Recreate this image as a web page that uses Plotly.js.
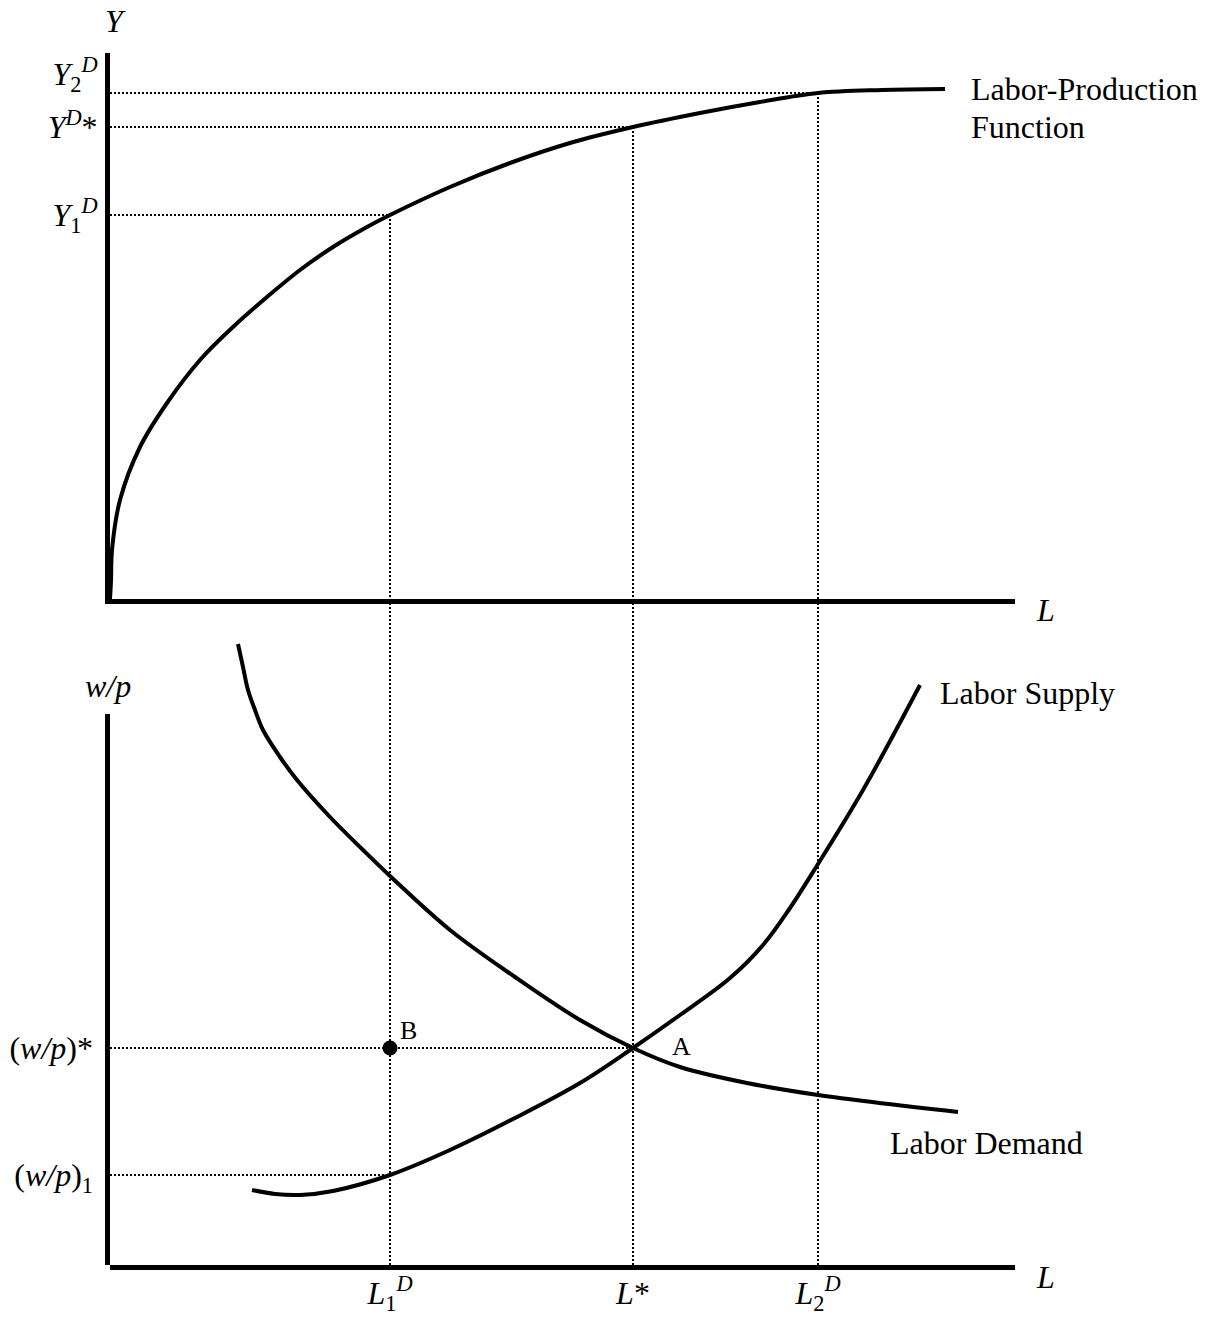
<!DOCTYPE html>
<html>
<head>
<meta charset="utf-8">
<script src="https://cdn.plot.ly/plotly-3.0.1.min.js"></script>
<style>html,body{margin:0;padding:0;background:#fff;}#chart{width:1219px;height:1319px;}</style>
</head>
<body>
<div id="chart"></div>
<script>
// ---- data (arbitrary units) ----
// key levels
var L1 = 280, Lstar = 523, L2 = 708;          // labour quantities
var Y1 = 384, Ystar = 472, Y2 = 506;          // output levels
var wStar = 217, w1 = 90;                     // real wage levels

// labour-production function
var prodL = [0, 1, 2, 10, 30, 57, 90, 123, 157, 190, 223, 257, 280, 340, 400, 460, 523, 590, 650, 708, 772, 835];
var prodY = [0, 18, 49, 99, 152, 196, 239, 272, 302, 329, 352, 372, 384, 412, 436, 456, 472, 486, 497, 506, 509, 510];

// labour demand
var demL = [128, 133, 138, 145, 153, 170, 187, 220, 253, 280, 340, 405, 470, 523, 570, 637, 708, 848];
var demW = [621, 598, 575, 555, 535, 508, 485, 448, 415, 389, 335, 288, 245, 217, 198, 182, 170, 153];

// labour supply
var supL = [142, 165, 190, 223, 280, 340, 405, 470, 523, 570, 620, 653, 680, 708, 753, 810];
var supW = [75, 71, 70, 74, 90, 115, 147, 182, 217, 250, 287, 320, 357, 401, 475, 580];

// tick labels
var yTickText = ['<i>Y</i><sub>1</sub><sup><i>D</i></sup>', '<i>Y</i><sup><i>D</i></sup>*', '<i>Y</i><sub>2</sub><sup><i>D</i></sup>'];
var wTickText = ['(<i>w/p</i>)*', '(<i>w/p</i>)<sub>1</sub>'];
var lTickText = ['<i>L</i><sub>1</sub><sup><i>D</i></sup>', '<i>L</i>*', '<i>L</i><sub>2</sub><sup><i>D</i></sup>'];

// ---- layout geometry ----
var W = 1219, H = 1319;
var FONT = 'Liberation Serif, Times New Roman, serif';
var xDom = [110 / W, 1015 / W];
var xRange = [0, 905];
var yRange = [0, 546];
var wRange = [0, 666];
var wAxisTop = 551;
var y2LabelLift = 19;

var dotted = {color: '#000', width: 2, dash: '2px,2px'};
var solid = {color: '#000', width: 4, shape: 'spline', smoothing: 1};

function seg(xs, ys, xa, ya) {
  return {x: xs, y: ys, xaxis: xa, yaxis: ya, mode: 'lines', line: dotted, hoverinfo: 'skip', showlegend: false};
}

var traces = [
  // top guides
  seg([0, L1], [Y1, Y1], 'x', 'y'),
  seg([0, Lstar], [Ystar, Ystar], 'x', 'y'),
  seg([0, L2], [Y2, Y2], 'x', 'y'),
  seg([L1, L1], [Y1, 0], 'x', 'y'),
  seg([Lstar, Lstar], [Ystar, 0], 'x', 'y'),
  seg([L2, L2], [Y2, 0], 'x', 'y'),
  // bottom guides
  seg([L1, L1], [0, wRange[1]], 'x2', 'y2'),
  seg([Lstar, Lstar], [0, wRange[1]], 'x2', 'y2'),
  seg([L2, L2], [0, wRange[1]], 'x2', 'y2'),
  seg([0, Lstar], [wStar, wStar], 'x2', 'y2'),
  seg([0, L1], [w1, w1], 'x2', 'y2'),
  // curves
  {x: prodL, y: prodY, xaxis: 'x', yaxis: 'y', mode: 'lines', line: solid, name: 'Labor-Production Function', showlegend: false},
  {x: demL, y: demW, xaxis: 'x2', yaxis: 'y2', mode: 'lines', line: solid, name: 'Labor Demand', showlegend: false},
  {x: supL, y: supW, xaxis: 'x2', yaxis: 'y2', mode: 'lines', line: solid, name: 'Labor Supply', showlegend: false},
  // point B
  {x: [L1], y: [wStar], xaxis: 'x2', yaxis: 'y2', mode: 'markers', marker: {color: '#000', size: 15}, name: 'B', showlegend: false}
];

var axBase = {showgrid: false, zeroline: false, ticks: '', fixedrange: true,
  tickfont: {family: FONT, size: 32, color: '#000'}};

function ann(text, xa, ya, x, y, xs, ys, size, xanchor) {
  return {text: text, xref: xa, yref: ya, x: x, y: y, xshift: xs, yshift: ys, showarrow: false,
    xanchor: xanchor || 'center', yanchor: 'middle', font: {family: FONT, size: size || 32, color: '#000'}};
}

var layout = {
  width: W, height: H,
  margin: {l: 0, r: 0, t: 0, b: 0},
  paper_bgcolor: '#fff', plot_bgcolor: 'rgba(0,0,0,0)',
  showlegend: false,
  font: {family: FONT, color: '#000'},
  xaxis: Object.assign({}, axBase, {domain: xDom, range: xRange, anchor: 'y', showline: true, linewidth: 5, linecolor: '#000', showticklabels: false}),
  yaxis: Object.assign({}, axBase, {domain: [1 - 599 / H, 1 - 53 / H], range: yRange, anchor: 'x', showline: true, linewidth: 5, linecolor: '#000',
    tickvals: [Y1, Ystar, Y2 + y2LabelLift], ticktext: yTickText, ticklabelstandoff: 1}),
  xaxis2: Object.assign({}, axBase, {domain: xDom, range: xRange, anchor: 'y2', showline: true, linewidth: 5, linecolor: '#000',
    tickvals: [L1, Lstar, L2], ticktext: lTickText, ticklabelstandoff: -4}),
  yaxis2: Object.assign({}, axBase, {domain: [1 - 1265 / H, 1 - 599 / H], range: wRange, anchor: 'x2', showline: false,
    tickvals: [wStar, w1], ticktext: wTickText, ticklabelstandoff: 16}),
  shapes: [
    {type: 'line', xref: 'paper', yref: 'y2', x0: xDom[0] - 2.5 / W, x1: xDom[0] - 2.5 / W, y0: -5, y1: wAxisTop,
      line: {color: '#000', width: 5}}
  ],
  annotations: [
    ann('<i>Y</i>', 'x', 'y', 0, yRange[1], 5, 32),
    ann('<i>L</i>', 'x', 'y', 900, 0, 35, -11),
    ann('<i>w/p</i>', 'x2', 'y2', 0, wAxisTop, -2, 28),
    ann('<i>L</i>', 'x2', 'y2', 900, 0, 35, -12),
    ann('Labor-Production', 'x', 'y', prodL[prodL.length - 1], prodY[prodY.length - 1], 24, 0, 32, 'left'),
    ann('Function', 'x', 'y', prodL[prodL.length - 1], prodY[prodY.length - 1], 24, -38, 32, 'left'),
    ann('Labor Supply', 'x2', 'y2', supL[supL.length - 1], supW[supW.length - 1], 18, -8, 32, 'left'),
    ann('Labor Demand', 'x2', 'y2', demL[demL.length - 1], demW[demW.length - 1], -70, -31, 32, 'left'),
    ann('A', 'x2', 'y2', Lstar, wStar, 48, 2, 26),
    ann('B', 'x2', 'y2', L1, wStar, 18, 18, 26)
  ]
};

Plotly.newPlot('chart', traces, layout, {displayModeBar: false, staticPlot: true});
</script>
</body>
</html>
